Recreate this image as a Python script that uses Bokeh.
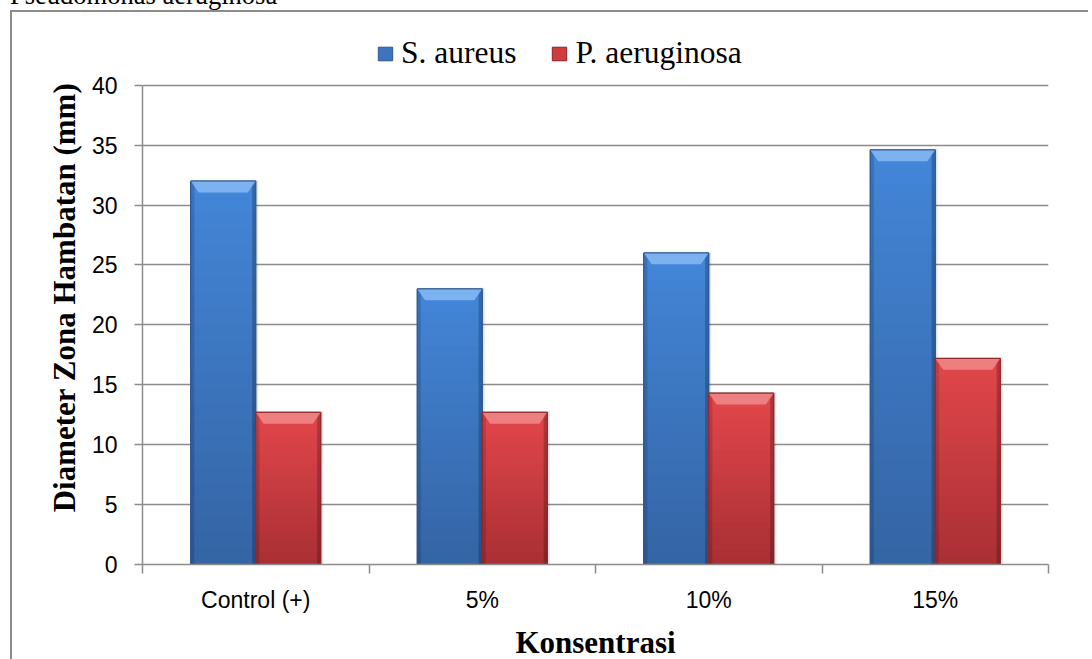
import numpy as np
from bokeh.plotting import figure
from bokeh.models import Range1d, FixedTicker, Legend, LegendItem, Div, Spacer
from bokeh.layouts import column, row
from bokeh.embed import file_html
from bokeh.resources import INLINE

# ---- data ----
categories = ["Control (+)", "5%", "10%", "15%"]
s_aureus = [32.0, 23.0, 26.0, 34.6]
p_aeruginosa = [12.7, 12.7, 14.3, 17.2]
series_names = ["S. aureus", "P. aeruginosa"]
y_ticks = [0, 5, 10, 15, 20, 25, 30, 35, 40]
x_label = "Konsentrasi"
y_label = "Diameter Zona Hambatan (mm)"
caption = "Pseudomonas aeruginosa"

# ---- layout (pixels) ----
FW = 906
AXIS_H = 482            # pixels spanned by 0..40
FH = 537                # frame extends above the axis to host the legend
y_top = max(y_ticks) * FH / AXIS_H

p = figure(width=1078, height=650,
           x_range=Range1d(0, len(categories)), y_range=Range1d(0, y_top),
           output_backend="svg", toolbar_location=None,
           min_border_left=130, min_border_right=42,
           min_border_top=18, min_border_bottom=95)
p.styles = {"border-left": "2px solid #8c8c8c", "border-top": "2px solid #8c8c8c"}
p.outline_line_color = None
p.background_fill_color = "white"
p.border_fill_color = "white"

# grid
p.xgrid.visible = False
p.ygrid.ticker = FixedTicker(ticks=y_ticks)
p.ygrid.grid_line_color = "#8c8c8c"
p.ygrid.grid_line_width = 1.5

# y axis
p.yaxis.bounds = (min(y_ticks), max(y_ticks))
p.yaxis.ticker = FixedTicker(ticks=y_ticks, minor_ticks=[])
p.yaxis.axis_line_color = "#8c8c8c"
p.yaxis.axis_line_width = 1.5
p.yaxis.major_tick_line_color = "#8c8c8c"
p.yaxis.major_tick_line_width = 1.5
p.yaxis.major_tick_out = 8
p.yaxis.major_tick_in = 0
p.yaxis.minor_tick_line_color = None
p.yaxis.major_label_text_font = "Liberation Sans"
p.yaxis.major_label_text_font_size = "23px"
p.yaxis.major_label_text_color = "black"
p.yaxis.major_label_standoff = 17
p.yaxis.axis_label = y_label
p.yaxis.axis_label_text_font = "Liberation Serif"
p.yaxis.axis_label_text_font_style = "bold"
p.yaxis.axis_label_text_font_size = "31px"
p.yaxis.axis_label_text_color = "black"
p.yaxis.axis_label_standoff = 7

# x axis: labels at category centres, ticks at boundaries
n = len(categories)
centers = [i + 0.5 for i in range(n)]
p.xaxis.ticker = FixedTicker(ticks=centers, minor_ticks=list(range(n + 1)))
p.xaxis.major_label_overrides = {c: lab for c, lab in zip(centers, categories)}
p.xaxis.axis_line_color = "#8c8c8c"
p.xaxis.axis_line_width = 1.5
p.xaxis.major_tick_out = 0
p.xaxis.major_tick_in = 0
p.xaxis.minor_tick_out = 9
p.xaxis.minor_tick_in = 0
p.xaxis.minor_tick_line_color = "#8c8c8c"
p.xaxis.minor_tick_line_width = 1.5
p.xaxis.major_label_text_font = "Liberation Sans"
p.xaxis.major_label_text_font_size = "23px"
p.xaxis.major_label_text_color = "black"
p.xaxis.major_label_standoff = 13
p.xaxis.axis_label = x_label
p.xaxis.axis_label_text_font = "Liberation Serif"
p.xaxis.axis_label_text_font_style = "bold"
p.xaxis.axis_label_text_font_size = "31px"
p.xaxis.axis_label_text_color = "black"
p.xaxis.axis_label_standoff = 9

# bars
bw = 0.287
offsets = [-bw / 2, bw / 2]
styles = [
    dict(top="#4386d8", bottom="#3464a4", mid="#3c74bd", bevel="#86baf4", edge="#2b5890"),
    dict(top="#e3474c", bottom="#a82f33", mid="#cf3b3f", bevel="#f08a8a", edge="#8a2528"),
]

def lerp(c1, c2, t):
    a = [int(c1[i:i + 2], 16) for i in (1, 3, 5)]
    b = [int(c2[i:i + 2], 16) for i in (1, 3, 5)]
    return "#%02x%02x%02x" % tuple(int(round(a[k] + (b[k] - a[k]) * t)) for k in range(3))

base_renderers = []
N = 24
for vals, off, st in zip([s_aureus, p_aeruginosa], offsets, styles):
    v = np.array(vals)
    xc = np.array(centers) + off
    # soft shadow
    p.vbar(x=xc + 0.006, width=bw + 0.01, top=v + 0.1, bottom=0,
           fill_color="#000000", fill_alpha=0.10, line_color=None)
    base = p.vbar(x=xc, width=bw, top=v, bottom=0, fill_color=st["mid"], line_color=st["edge"])
    base_renderers.append(base)
    for k in range(N - 1, -1, -1):
        t = (k + 0.5) / N
        p.vbar(x=xc, width=bw, top=v * (k + 1) / N, bottom=0,
               fill_color=lerp(st["bottom"], st["top"], t), line_color=None)
    # side shading
    ew = 0.016
    p.vbar(x=xc - bw / 2 + ew / 2, width=ew, top=v, bottom=0,
           fill_color="#000000", fill_alpha=0.14, line_color=None)
    p.vbar(x=xc + bw / 2 - ew / 2, width=ew, top=v, bottom=0,
           fill_color="#000000", fill_alpha=0.22, line_color=None)
    # top bevel
    bh = 0.95
    ins = 0.035
    xs = [[x - bw / 2, x + bw / 2, x + bw / 2 - ins, x - bw / 2 + ins] for x in xc]
    ys = [[t, t, t - bh, t - bh] for t in v]
    p.patches(xs, ys, fill_color=st["bevel"], fill_alpha=0.85, line_color=None)
    p.vbar(x=xc, width=bw, top=v, bottom=0, fill_color=None, line_color=st["edge"], line_width=1)

legend = Legend(items=[LegendItem(label=nm, renderers=[r]) for nm, r in zip(series_names, base_renderers)],
                orientation="horizontal", location=(234, 493),
                label_text_font="Liberation Serif", label_text_font_size="31.5px",
                label_text_color="black", glyph_width=18, glyph_height=17,
                label_standoff=7, spacing=34, padding=0, margin=0,
                border_line_color=None, background_fill_alpha=0)
p.add_layout(legend, "center")

div = Div(text=('<div style="position:relative; top:-18px; left:10px; height:10px; overflow:visible; '
                'white-space:nowrap; font-family:\'Liberation Serif\'; font-size:26.5px; '
                'line-height:26.5px; color:black;">' + caption + '</div>'),
          width=500, height=10, margin=0, styles={"overflow": "visible", "height": "10px"})

layout = column(div, row(Spacer(width=10, margin=0), p, margin=0), margin=0)
open("out.html", "w").write(file_html(layout, INLINE))
